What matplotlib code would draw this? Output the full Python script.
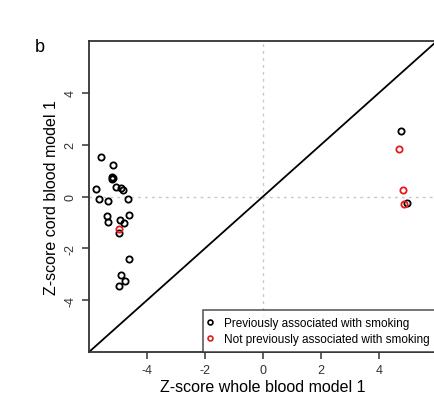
import matplotlib
matplotlib.use("Agg")
import matplotlib.pyplot as plt
from matplotlib.lines import Line2D

plt.rcParams['font.family'] = ['Liberation Sans', 'DejaVu Sans']

# Previously associated with smoking (black)
prev_x = [-5.59, -5.16, -5.20, -5.18, -5.19, -5.77, -5.07, -4.91, -4.84, -5.64, -5.34,
          -4.67, -5.39, -5.36, -4.93, -4.80, -4.63, -4.95, -4.63, -4.91, -4.77, -4.95,
          4.77, 4.95]
prev_y = [1.53, 1.20, 0.77, 0.72, 0.69, 0.28, 0.35, 0.33, 0.27, -0.10, -0.17,
          -0.09, -0.77, -1.00, -0.90, -1.03, -0.73, -1.40, -2.42, -3.04, -3.26, -3.44,
          2.53, -0.26]
# Not previously associated with smoking (red)
new_x = [-4.95, 4.70, 4.82, 4.87]
new_y = [-1.27, 1.83, 0.26, -0.30]

ticks = [-4, -2, 0, 2, 4]
lims = (-6, 6)

fig = plt.figure(figsize=(4.34, 4.02), dpi=100)
ax = fig.add_axes([89/434, (402-353)/402, (437-89)/434, (353-42)/402])
ax.set_xlim(*lims)
ax.set_ylim(*lims)

ax.axvline(0, color='#c8c8c8', lw=1, ls=(0, (2, 3)), zorder=1)
ax.axhline(0, color='#c8c8c8', lw=1, ls=(0, (2, 3)), zorder=1)
ax.plot(lims, lims, color='black', lw=1.3, zorder=2)

ax.plot(prev_x, prev_y, 'o', mfc='none', mec='black', ms=4.5, mew=1.3, zorder=3)
ax.plot(new_x, new_y, 'o', mfc='none', mec='#e41a1c', ms=4.5, mew=1.3, zorder=4)

ax.set_xticks(ticks)
ax.set_yticks(ticks)
ax.set_xticklabels([str(t) for t in ticks])
ax.set_yticklabels([str(t) for t in ticks], rotation=90, va='center')
ax.tick_params(direction='out', length=5, width=1.1, labelsize=9, colors='#333333', pad=4)
for s in ax.spines.values():
    s.set_linewidth(1.3)
    s.set_color('#333333')

ax.set_xlabel('Z-score whole blood model 1', fontsize=11.5, labelpad=2)
ax.set_ylabel('Z-score cord blood model 1', fontsize=11.5, labelpad=4)

handles = [Line2D([], [], marker='o', ls='none', mfc='none', mec='black', ms=3.5, mew=1.2),
           Line2D([], [], marker='o', ls='none', mfc='none', mec='#e41a1c', ms=3.5, mew=1.2)]
leg = ax.legend(handles, ['Previously associated with smoking', 'Not previously associated with smoking'],
                loc='lower right', bbox_to_anchor=(1.0, 0.0), fontsize=8.5, frameon=True,
                fancybox=False, edgecolor='#333333', handlelength=0.0, handletextpad=1.2,
                borderaxespad=0, borderpad=0.6, labelspacing=0.35)
leg.get_frame().set_linewidth(1.2)

fig.text(35/434, 1 - 48/402, 'b', fontsize=13, ha='left', va='center')

fig.savefig('out.png', dpi=100)
